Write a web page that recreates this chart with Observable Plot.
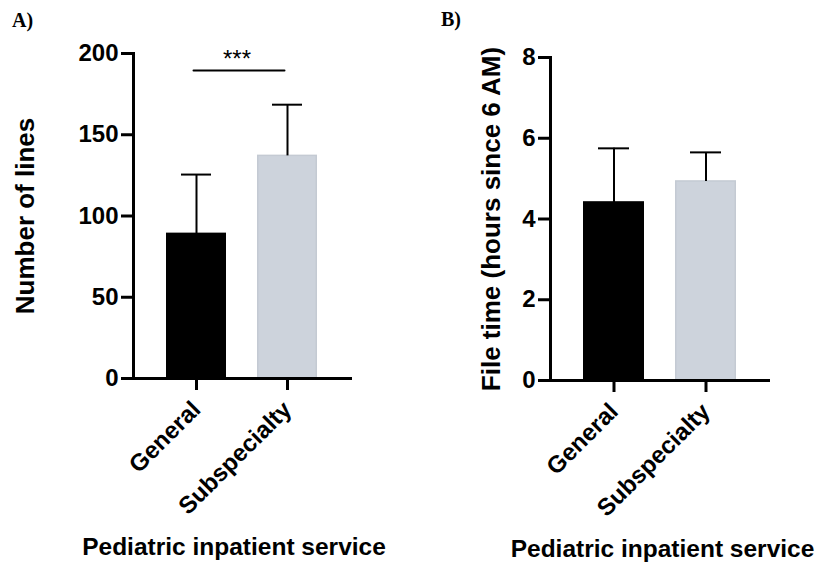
<!DOCTYPE html>
<html>
<head>
<meta charset="utf-8">
<script src="https://cdn.jsdelivr.net/npm/d3@7"></script>
<script src="https://cdn.jsdelivr.net/npm/@observablehq/plot@0.6"></script>
<style>
  html, body { margin: 0; padding: 0; background: #fff; }
  #wrap { position: relative; width: 829px; height: 566px; overflow: hidden; background: #fff; }
  .panel { position: absolute; top: 0; z-index: 1; }
  .tag { position: absolute; z-index: 2; font-family: "Liberation Serif", "Times New Roman", serif; font-weight: bold; font-size: 20px; color: #000; }
</style>
</head>
<body>
<div id="wrap">
  <div id="pa" class="panel" style="left:0px;"></div>
  <div id="pb" class="panel" style="left:415px;"></div>
  <div class="tag" style="left:12px; top:9px;">A)</div>
  <div class="tag" style="left:441px; top:8px;">B)</div>
</div>
<script>
// ---- data ----
const categories = ["General", "Subspecialty"];
const barColors = ["#000000", "#cdd3dc"];
const barStrokes = ["#000000", "#c4cad3"];

// Panel A: number of lines
const linesMean = [89, 137];
const linesSD = [36.5, 31.5];
const linesTicks = [0, 50, 100, 150, 200];
const linesLabel = "Number of lines";
const sigY = 189.5;
const sigLabel = "***";

// Panel B: file time
const fileMean = [4.41, 4.93];
const fileSD = [1.34, 0.72];
const fileTicks = [0, 2, 4, 6, 8];
const fileLabel = "File time (hours since 6 AM)";

const xTitle = "Pediatric inpatient service";

const font = "'Liberation Sans', Arial, Helvetica, sans-serif";

function rows(means, sds) {
  return categories.map((c, i) => ({cat: c, v: means[i], sd: sds[i], fill: barColors[i], stroke: barStrokes[i]}));
}

function panel({means, sds, ticks, domain, yLabel, marginLeft, marginRight, marginTop, marginBottom, width, extra, labelDx, titleDx}) {
  const data = rows(means, sds);
  return Plot.plot({
    width, height: 566,
    marginLeft, marginRight, marginTop, marginBottom,
    style: {fontFamily: font, background: "white", color: "black", overflow: "visible"},
    x: {domain: categories, paddingInner: 0.337, paddingOuter: 0.35, axis: null},
    y: {domain, axis: null},
    marks: [
      Plot.barY(data, {x: "cat", y: "v", fill: "fill", stroke: "stroke", strokeWidth: 1.5, insetLeft: 0.75, insetRight: 0.75}),
      Plot.ruleX(data, {x: "cat", y1: "v", y2: d => d.v + d.sd, stroke: "black", strokeWidth: 2}),
      Plot.tickY(data, {x: "cat", y: d => d.v + d.sd, stroke: "black", strokeWidth: 2, insetLeft: 15, insetRight: 15}),
      Plot.axisY({ticks, tickSize: 12, tickPadding: 3, fontSize: 24, fontWeight: "bold", strokeWidth: 3, label: null}),
      Plot.axisX({tickSize: 12, tickRotate: -45, tickPadding: 15, fontSize: 24, fontWeight: "bold", strokeWidth: 3, label: null}),
      Plot.frame({anchor: "left", strokeWidth: 3, stroke: "black"}),
      Plot.frame({anchor: "bottom", strokeWidth: 3, stroke: "black"}),
      Plot.text([yLabel], {frameAnchor: "left", textAnchor: "middle", rotate: -90, dx: labelDx, fontSize: 26, fontWeight: "bold", fill: "black"}),
      Plot.text([xTitle], {frameAnchor: "bottom", dy: 176, dx: titleDx, fontSize: 24.5, fontWeight: "bold", fill: "black"}),
      ...extra
    ]
  });
}

const sigRows = categories.map(c => ({cat: c, y: sigY}));

document.getElementById("pa").append(panel({
  means: linesMean, sds: linesSD, ticks: linesTicks, domain: [0, 200], yLabel: linesLabel,
  marginLeft: 133, marginRight: 65, marginTop: 53, marginBottom: 188, width: 415, labelDx: -108, titleDx: -8,
  extra: [
    Plot.line(sigRows, {x: "cat", y: "y", stroke: "black", strokeWidth: 2, dx: -3}),
    Plot.text([sigLabel], {frameAnchor: "top", dx: -5, dy: -4, fontSize: 24, fill: "black"})
  ]
}));

document.getElementById("pb").append(panel({
  means: fileMean, sds: fileSD, ticks: fileTicks, domain: [0, 8], yLabel: fileLabel,
  marginLeft: 135, marginRight: 61, marginTop: 57, marginBottom: 186, width: 414, labelDx: -59, titleDx: 3,
  extra: []
}));
</script>
</body>
</html>
